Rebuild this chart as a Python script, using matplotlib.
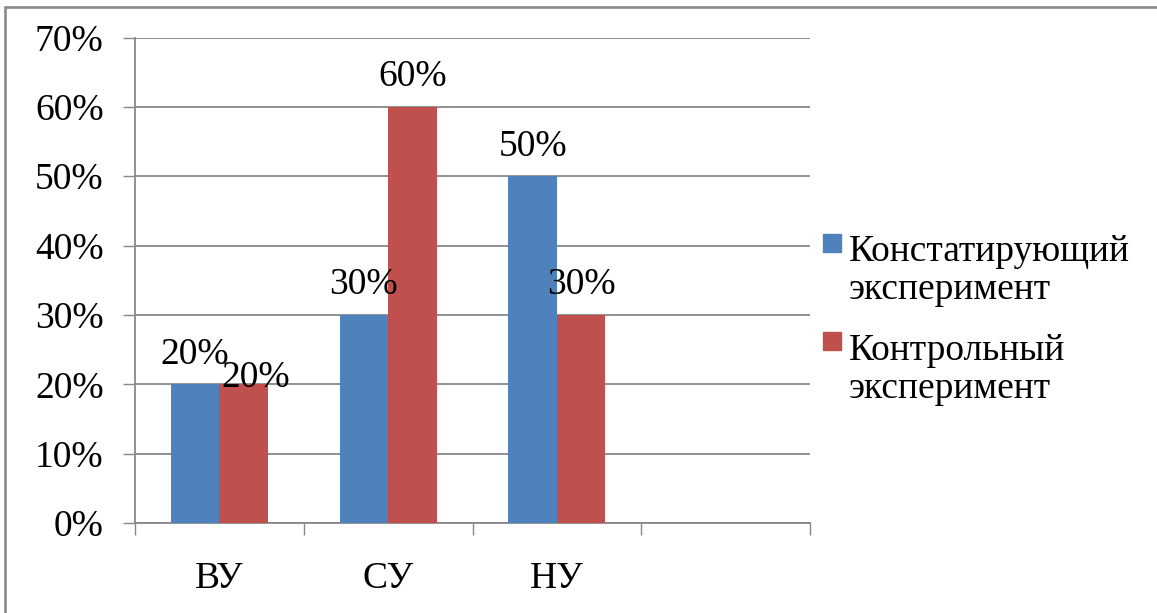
import matplotlib
matplotlib.use("Agg")
import matplotlib.pyplot as plt
import matplotlib.patches as mpatches
import numpy as np

# --- DATA ---
categories = ["ВУ", "СУ", "НУ", ""]
series_names = ["Констатирующий\nэксперимент", "Контрольный\nэксперимент"]
ascertaining = [20, 30, 50, np.nan]
control = [20, 60, 30, np.nan]
y_ticks = [0, 10, 20, 30, 40, 50, 60, 70]

# --- STYLE ---
colors = ["#4F81BD", "#C0504D"]
grid_gray = "#888888"
font = "Liberation Serif"
fsize = 27
bar_w = 0.288
# label shifts in points (dx, dy) above each bar top
label_shift = [
    [(0, 21.5), (0, 21.5), (0, 21.5), (0, 21.5)],
    [(8.6, 5.0), (0, 21.5), (0, 21.5), (0, 21.5)],
]

plt.rcParams["font.family"] = [font, "DejaVu Serif"]

W, H = 1157, 613
fig = plt.figure(figsize=(W / 100, H / 100), dpi=100)
ax = fig.add_axes([135 / W, 1 - 523 / H, (810 - 135) / W, (523 - 37.5) / H])

x = np.arange(len(categories))
series = [ascertaining, control]
for i, vals in enumerate(series):
    offs = (i - 0.5) * bar_w
    ax.bar(x + offs, vals, width=bar_w, color=colors[i], zorder=3)
    for j, v in enumerate(vals):
        if np.isnan(v):
            continue
        dx, dy = label_shift[i][j]
        ax.annotate(f"{v:.0f}%", (x[j] + offs, v), xytext=(dx, dy),
                    textcoords="offset points", ha="center", va="center",
                    fontsize=fsize, zorder=5)

ax.set_xlim(-0.5, len(categories) - 0.5)
ax.set_ylim(0, 70)
ax.set_yticks(y_ticks)
ax.set_yticklabels([f"{t}%" for t in y_ticks])
ax.yaxis.grid(True, color=grid_gray, linewidth=1.3, zorder=0)
ax.set_axisbelow(True)

ax.set_xticks(x)
ax.set_xticklabels(categories)
ax.set_xticks(np.arange(-0.5, len(categories)), minor=True)
ax.tick_params(axis="x", which="major", length=0, pad=28, labelsize=fsize)
ax.tick_params(axis="x", which="minor", length=8.6, width=1.0, color=grid_gray)
ax.tick_params(axis="y", length=8.6, width=1.0, color=grid_gray, pad=14,
               labelsize=fsize)

for s in ["top", "right"]:
    ax.spines[s].set_visible(False)
for s in ["left", "bottom"]:
    ax.spines[s].set_color(grid_gray)
    ax.spines[s].set_linewidth(1.3)

# legend: small square keys beside the first line of each two-line name
key_tops = [234, 332]
last_baselines = [299, 398]
for i, name in enumerate(series_names):
    fig.patches.append(mpatches.Rectangle(
        (823 / W, 1 - (key_tops[i] + 18) / H), 18 / W, 18 / H,
        transform=fig.transFigure, color=colors[i]))
    fig.text(849 / W, 1 - last_baselines[i] / H, name, fontsize=fsize,
             va="baseline", ha="left", linespacing=1.12)

# outer frame of the chart area
fig.patches.append(mpatches.Rectangle(
    (5.5 / W, -0.5), 2, 1.5 - 7 / H, transform=fig.transFigure,
    fill=False, edgecolor="#8a8a8a", linewidth=1.9))

fig.savefig("out.png", dpi=100)
